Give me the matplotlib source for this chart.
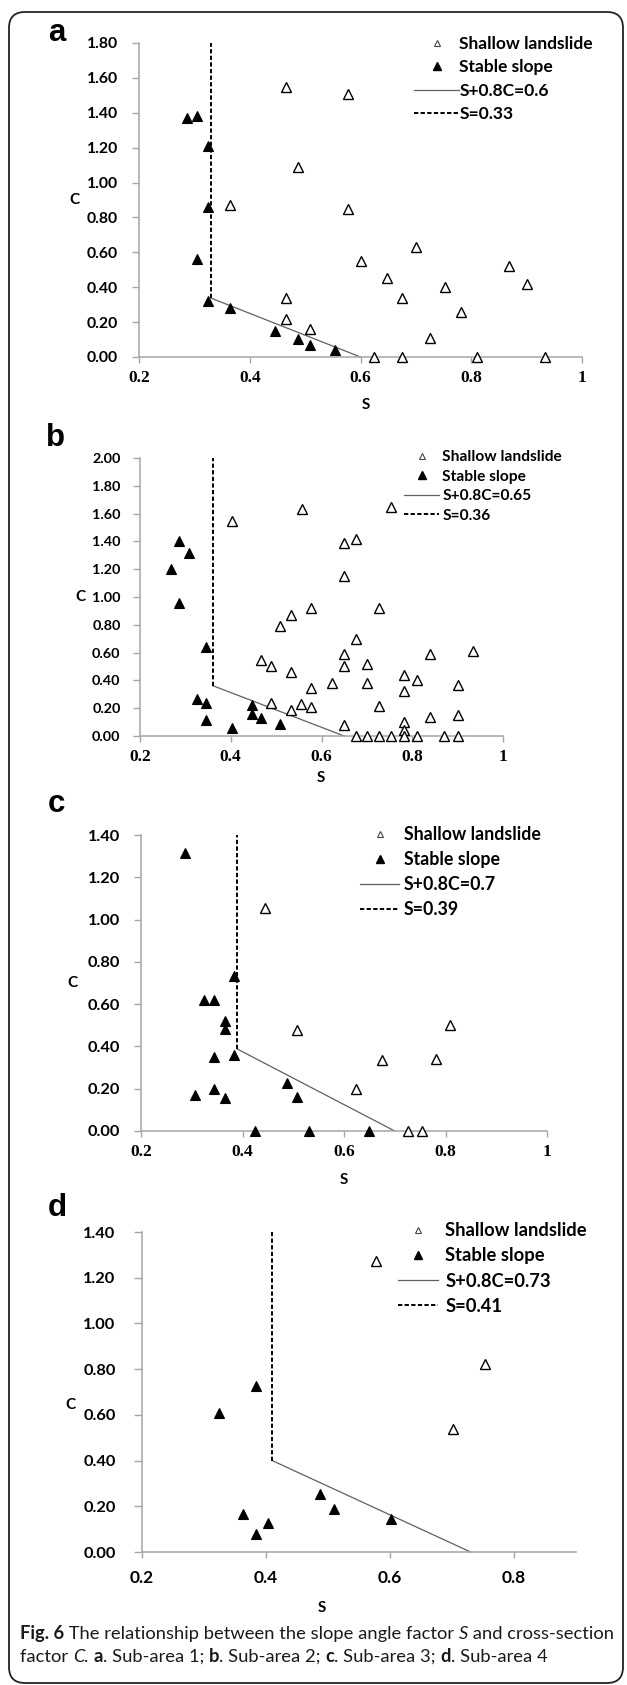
import matplotlib
matplotlib.use("Agg")
import matplotlib.pyplot as plt
from matplotlib.lines import Line2D
from matplotlib.patches import FancyBboxPatch
import numpy as np

W, H = 627, 1685

# ---------------- data ----------------
# Panel a (Sub-area 1)
a_land_S = [0.465, 0.577, 0.487, 0.364, 0.577, 0.700, 0.600, 0.648, 0.868, 0.901, 0.753,
            0.675, 0.465, 0.781, 0.465, 0.509, 0.726, 0.624, 0.675, 0.810, 0.933]
a_land_C = [1.55, 1.51, 1.09, 0.87, 0.85, 0.63, 0.55, 0.45, 0.52, 0.42, 0.40,
            0.34, 0.34, 0.26, 0.22, 0.16, 0.11, 0.0, 0.0, 0.0, 0.0]
a_stab_S = [0.287, 0.305, 0.324, 0.324, 0.304, 0.324, 0.364, 0.446, 0.487, 0.509, 0.554]
a_stab_C = [1.37, 1.38, 1.21, 0.86, 0.56, 0.32, 0.28, 0.15, 0.105, 0.07, 0.04]

# Panel b (Sub-area 2)
b_land_S = [0.403, 0.556, 0.754, 0.650, 0.675, 0.650, 0.577, 0.727, 0.533, 0.509, 0.675,
            0.466, 0.488, 0.650, 0.650, 0.701, 0.839, 0.934, 0.533, 0.782, 0.810, 0.623,
            0.701, 0.901, 0.577, 0.782, 0.488, 0.555, 0.577, 0.727, 0.533, 0.839, 0.901,
            0.650, 0.782, 0.782, 0.675, 0.701, 0.727, 0.754, 0.782, 0.810, 0.869, 0.901]
b_land_C = [1.55, 1.63, 1.65, 1.39, 1.42, 1.15, 0.92, 0.92, 0.87, 0.79, 0.70,
            0.55, 0.505, 0.59, 0.505, 0.52, 0.59, 0.61, 0.46, 0.44, 0.40, 0.38,
            0.38, 0.365, 0.345, 0.325, 0.24, 0.23, 0.21, 0.215, 0.185, 0.14, 0.15,
            0.08, 0.10, 0.04, 0.0, 0.0, 0.0, 0.0, 0.0, 0.0, 0.0, 0.0]
b_stab_S = [0.287, 0.307, 0.269, 0.287, 0.345, 0.325, 0.345, 0.345, 0.403, 0.446, 0.446, 0.466, 0.509]
b_stab_C = [1.40, 1.315, 1.20, 0.955, 0.64, 0.265, 0.235, 0.115, 0.06, 0.22, 0.155, 0.13, 0.085]

# Panel c (Sub-area 3)
c_land_S = [0.444, 0.508, 0.809, 0.675, 0.782, 0.624, 0.726, 0.754]
c_land_C = [1.057, 0.477, 0.503, 0.335, 0.342, 0.199, 0.0, 0.0]
c_stab_S = [0.287, 0.384, 0.324, 0.344, 0.365, 0.365, 0.344, 0.384, 0.306, 0.344, 0.365,
            0.487, 0.508, 0.424, 0.531, 0.649]
c_stab_C = [1.313, 0.732, 0.619, 0.619, 0.521, 0.484, 0.350, 0.358, 0.169, 0.200, 0.156,
            0.227, 0.161, 0.0, 0.0, 0.0]

# Panel d (Sub-area 4)
d_land_S = [0.577, 0.753, 0.701]
d_land_C = [1.272, 0.823, 0.539]
d_stab_S = [0.384, 0.324, 0.487, 0.510, 0.601, 0.363, 0.404, 0.384]
d_stab_C = [0.726, 0.609, 0.252, 0.189, 0.146, 0.165, 0.128, 0.077]

# Threshold lines: S + 0.8C = K, and S = S0
line_K = [0.6, 0.65, 0.7, 0.73]
line_S0 = [0.33, 0.36, 0.39, 0.41]
c_max = [1.8, 2.0, 1.4, 1.4]
s_max = [1.0, 1.0, 1.0, 0.9]
x_ticks_list = [[0.2, 0.4, 0.6, 0.8, 1.0]] * 3 + [[0.2, 0.4, 0.6, 0.8]]
x_tick_labels_list = [["0.2", "0.4", "0.6", "0.8", "1"]] * 3 + [["0.2", "0.4", "0.6", "0.8"]]
panel_letters = ["a", "b", "c", "d"]
legend_names = ["Shallow landslide", "Stable slope"]

panels = [
    (a_land_S, a_land_C, a_stab_S, a_stab_C),
    (b_land_S, b_land_C, b_stab_S, b_stab_C),
    (c_land_S, c_land_C, c_stab_S, c_stab_C),
    (d_land_S, d_land_C, d_stab_S, d_stab_C),
]

# ---------------- layout (pixels) ----------------
rects = [(139, 582, 43, 357), (140, 503, 458, 736), (141, 547, 835, 1131), (142, 576, 1232, 1552)]
letter_pos = [(57, 33), (56, 438), (56, 804), (57, 1208)]
c_label_pos = [(74, 200), (80, 597), (72, 983), (70, 1405)]
s_label_pos = [(366, 405), (321, 778), (344, 1180), (322, 1608)]
ytick_fs = [11.3, 10.4, 11.8, 11.8]
ytick_pad = [10, 9, 10, 13]
ytick_len = [5, 5, 5, 6]
legend_anchor = [(414, 36), (404, 450), (360, 826), (398, 1222)]
legend_fs = [12.5, 11.2, 12.8, 13.2]
legend_hl = [2.6, 2.25, 2.2, 2.2]
legend_tp = [0.02, 0.2, 0.28, 0.38]
legend_ls = [0.42, 0.36, 0.45, 0.45]

GRAY = "#a6a6a6"
SANS = ["Lato", "DejaVu Sans"]
SERIF = ["Liberation Serif", "DejaVu Serif"]

fig = plt.figure(figsize=(W / 100, H / 100), dpi=100)
fig.patch.set_facecolor("white")

def to_fig(x, y):
    return x / W, 1 - y / H

for i in range(4):
    land_S, land_C, stab_S, stab_C = panels[i]
    l, r, t, b = rects[i]
    ax = fig.add_axes([l / W, 1 - b / H, (r - l) / W, (b - t) / H])
    ax.set_xlim(0.2, s_max[i])
    ax.set_ylim(0, c_max[i])
    for sp in ["top", "right"]:
        ax.spines[sp].set_visible(False)
    for sp in ["left", "bottom"]:
        ax.spines[sp].set_color(GRAY)
        ax.spines[sp].set_linewidth(1.1)

    # threshold lines
    K, S0 = line_K[i], line_S0[i]
    C0 = (K - S0) / 0.8
    ax.plot([S0, K], [C0, 0], color="#606060", lw=0.9, zorder=2, clip_on=False)
    ax.plot([S0, S0], [C0, c_max[i]], color="black", lw=1.4, ls=(0, (2.2, 1.2)), zorder=2, clip_on=False)

    # points
    ax.plot(land_S, land_C, ls="none", marker="^", ms=6.5, mfc="white", mec="black",
            mew=1.0, zorder=3, clip_on=False)
    ax.plot(stab_S, stab_C, ls="none", marker="^", ms=7, mfc="black", mec="black",
            mew=0.8, zorder=3, clip_on=False)

    # ticks
    yt = np.arange(0, c_max[i] + 0.001, 0.2)
    ax.set_yticks(yt)
    ax.set_yticklabels(["%.2f" % v for v in yt],
                       fontfamily=SANS, fontweight="bold", fontsize=ytick_fs[i])
    ax.set_xticks(x_ticks_list[i])
    if i < 3:
        ax.set_xticklabels(x_tick_labels_list[i], fontfamily=SERIF, fontweight="bold", fontsize=12.5)
    else:
        ax.set_xticklabels(x_tick_labels_list[i], fontfamily=SANS, fontweight="bold", fontsize=12.5)
    ax.tick_params(axis="y", direction="out", length=ytick_len[i], width=1, color=GRAY,
                   pad=ytick_pad[i])
    ax.tick_params(axis="x", direction="out", length=4, width=1, color=GRAY,
                   pad=5 if i < 3 else 9)

    # legend
    handles = [
        Line2D([], [], ls="none", marker="^", ms=5, mfc="white", mec="#444444", mew=0.8),
        Line2D([], [], ls="none", marker="^", ms=5.5, mfc="black", mec="black"),
        Line2D([], [], color="#606060", lw=0.9),
        Line2D([], [], color="black", lw=1.4, ls=(0, (2.2, 1.2))),
    ]
    labels = legend_names + ["S+0.8C=%g" % K, "S=%g" % S0]
    ax.legend(handles, labels, loc="upper left",
              bbox_to_anchor=to_fig(*legend_anchor[i]), bbox_transform=fig.transFigure,
              frameon=False, borderpad=0, borderaxespad=0,
              handlelength=legend_hl[i], handletextpad=legend_tp[i],
              labelspacing=legend_ls[i],
              prop={"family": SANS, "weight": "bold", "size": legend_fs[i]})

    # labels
    fig.text(*to_fig(*letter_pos[i]), panel_letters[i], fontsize=22.5, fontweight="bold",
             family=["Liberation Sans", "DejaVu Sans"], ha="center", va="center")
    fig.text(*to_fig(*c_label_pos[i]), "C", fontsize=11, fontweight="bold",
             family=SANS, ha="center", va="center")
    fig.text(*to_fig(*s_label_pos[i]), "S", fontsize=11, fontweight="bold",
             family=SANS, ha="center", va="center")

# rounded frame
frame = FancyBboxPatch((9 / 100, (H - 1683) / 100), (623 - 9) / 100, (1683 - 12) / 100,
                       boxstyle="round,pad=0,rounding_size=0.16",
                       transform=fig.dpi_scale_trans, fill=False, ec="#222222", lw=1.3,
                       clip_on=False)
fig.add_artist(frame)

# caption
cap_ax = fig.add_axes([0, 0, 1, 1])
cap_ax.axis("off")
cap_ax.set_zorder(-1)

def run_text(pieces, x0, ybase, size):
    prev = None
    for txt, style in pieces:
        kw = dict(fontsize=size, family=["Lato", "DejaVu Sans"], va="baseline", ha="left",
                  color="#1a1a1a")
        if style == "b":
            kw["fontweight"] = "bold"
        elif style == "i":
            kw["fontstyle"] = "italic"
        if prev is None:
            prev = cap_ax.annotate(txt, xy=(x0, H - ybase), xycoords="figure pixels", **kw)
        else:
            prev = cap_ax.annotate(txt, xy=(1, H - ybase), xycoords=(prev, "figure pixels"), **kw)

CAP_FS = 13.2
run_text([("Fig. 6", "b"), (" The relationship between the slope angle factor ", "n"),
          ("S", "i"), (" and cross-section", "n")], 20, 1639, CAP_FS)
run_text([("factor ", "n"), ("C", "i"), (". ", "n"), ("a", "b"), (". Sub-area 1; ", "n"),
          ("b", "b"), (". Sub-area 2; ", "n"), ("c", "b"), (". Sub-area 3; ", "n"),
          ("d", "b"), (". Sub-area 4", "n")], 20, 1662, CAP_FS)

fig.savefig("out.png", dpi=100, facecolor="white")
